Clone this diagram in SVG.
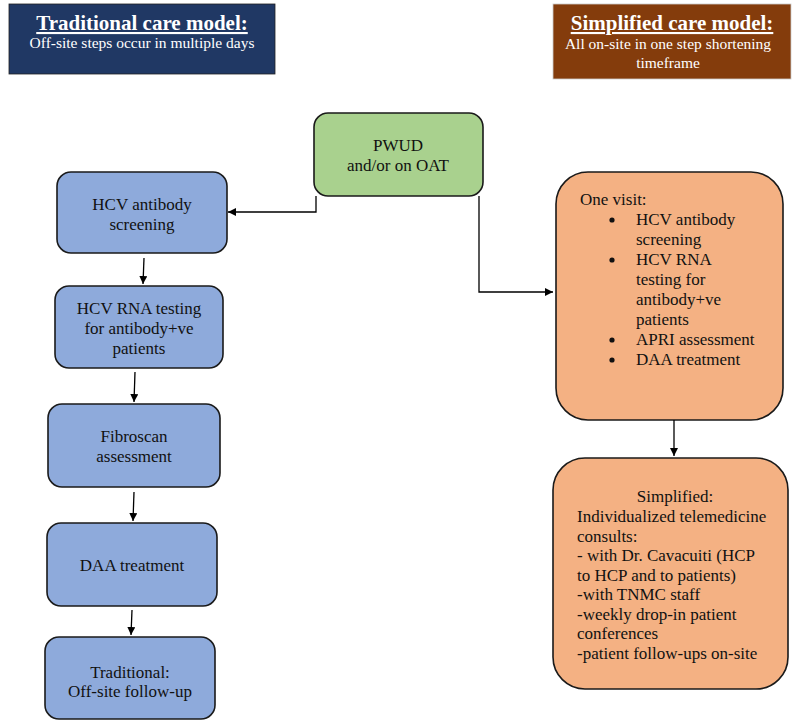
<svg xmlns="http://www.w3.org/2000/svg" width="794" height="722" viewBox="0 0 794 722" font-family="'Liberation Serif', 'Times New Roman', serif">
<defs>
<marker id="ah" viewBox="0 0 10 10" refX="10" refY="5" markerWidth="8" markerHeight="8" markerUnits="userSpaceOnUse" orient="auto">
<path d="M0,0 L10,5 L0,10 z" fill="#000"/>
</marker>
</defs>
<style>
.t{font-family:"Liberation Serif","Times New Roman",serif;font-size:17px;fill:#111;}
.c{text-anchor:middle;}
.blue{fill:#8EAADB;stroke:#1a1a1a;stroke-width:1.6;}
.green{fill:#A9D18E;stroke:#1a1a1a;stroke-width:1.6;}
.orange{fill:#F4B183;stroke:#1a1a1a;stroke-width:1.6;}
.hdt{font-family:"Liberation Serif","Times New Roman",serif;font-size:21px;font-weight:bold;fill:#fff;text-decoration:underline;text-anchor:middle;}
.hds{font-family:"Liberation Serif","Times New Roman",serif;font-size:15.5px;fill:#fff;text-anchor:middle;}
.conn{fill:none;stroke:#000;stroke-width:1.3;}
</style>
<rect width="794" height="722" fill="#fff"/>

<g id="header-traditional">
<rect x="9" y="4" width="266" height="70" fill="#203864" stroke="#222" stroke-width="0.8"/>
<text x="142" y="30" class="hdt">Traditional care model:</text>
<text x="142" y="48" class="hds">Off-site steps occur in multiple days</text>
</g>

<g id="header-simplified">
<rect x="553" y="4" width="238" height="75" fill="#843C0C" stroke="#ccc" stroke-width="0.8"/>
<text x="672" y="30" class="hdt">Simplified care model:</text>
<text x="668" y="49" class="hds">All on-site in one step shortening</text>
<text x="668" y="68" class="hds">timeframe</text>
</g>

<g id="pwud">
<rect x="314" y="113" width="169" height="83" rx="14" class="green"/>
<text x="398" y="151" class="t c">PWUD</text>
<text x="398" y="171" class="t c">and/or on OAT</text>
</g>

<g id="hcv-antibody">
<rect x="57" y="172" width="170" height="81" rx="14" class="blue"/>
<text x="142" y="210" class="t c">HCV antibody</text>
<text x="142" y="230" class="t c">screening</text>
</g>

<g id="hcv-rna">
<rect x="55" y="286" width="168" height="82" rx="14" class="blue"/>
<text x="139" y="314" class="t c">HCV RNA testing</text>
<text x="139" y="334" class="t c">for antibody+ve</text>
<text x="139" y="354" class="t c">patients</text>
</g>

<g id="fibroscan">
<rect x="48" y="404" width="172" height="83" rx="14" class="blue"/>
<text x="134" y="442" class="t c">Fibroscan</text>
<text x="134" y="462" class="t c">assessment</text>
</g>

<g id="daa">
<rect x="47" y="523" width="170" height="83" rx="14" class="blue"/>
<text x="132" y="571" class="t c">DAA treatment</text>
</g>

<g id="traditional-followup">
<rect x="45" y="637" width="170" height="82" rx="14" class="blue"/>
<text x="130" y="678" class="t c">Traditional:</text>
<text x="130" y="697" class="t c">Off-site follow-up</text>
</g>

<g id="one-visit">
<rect x="556" y="172" width="227" height="248" rx="32" class="orange"/>
<text x="580" y="205" class="t">One visit:</text>
<circle cx="612" cy="220" r="2.6" fill="#111"/>
<circle cx="612" cy="260" r="2.6" fill="#111"/>
<circle cx="612" cy="340" r="2.6" fill="#111"/>
<circle cx="612" cy="360" r="2.6" fill="#111"/>
<text x="636" y="225" class="t">HCV antibody</text>
<text x="636" y="245" class="t">screening</text>
<text x="636" y="265" class="t">HCV RNA</text>
<text x="636" y="285" class="t">testing for</text>
<text x="636" y="305" class="t">antibody+ve</text>
<text x="636" y="325" class="t">patients</text>
<text x="636" y="345" class="t">APRI assessment</text>
<text x="636" y="365" class="t">DAA treatment</text>
</g>

<g id="simplified-followup">
<rect x="553" y="458" width="235" height="231" rx="32" class="orange"/>
<text x="675" y="502" class="t c">Simplified:</text>
<text x="577" y="522" class="t">Individualized telemedicine</text>
<text x="577" y="541.5" class="t">consults:</text>
<text x="577" y="561" class="t">- with Dr. Cavacuiti (HCP</text>
<text x="577" y="580.5" class="t">to HCP and to patients)</text>
<text x="577" y="600" class="t">-with TNMC staff</text>
<text x="577" y="619.5" class="t">-weekly drop-in patient</text>
<text x="577" y="639" class="t">conferences</text>
<text x="577" y="658.5" class="t">-patient follow-ups on-site</text>
</g>

<g id="connectors">
<polyline points="316,196 316,212 228,212" class="conn" marker-end="url(#ah)"/>
<polyline points="479,196 479,292 553,292" class="conn" marker-end="url(#ah)"/>
<line x1="144" y1="258" x2="143" y2="284" class="conn" marker-end="url(#ah)"/>
<line x1="135" y1="372" x2="134" y2="402" class="conn" marker-end="url(#ah)"/>
<line x1="134" y1="492" x2="133" y2="521" class="conn" marker-end="url(#ah)"/>
<line x1="132" y1="610" x2="131" y2="635" class="conn" marker-end="url(#ah)"/>
<line x1="674" y1="420" x2="674" y2="456" class="conn" marker-end="url(#ah)"/>
</g>
</svg>
